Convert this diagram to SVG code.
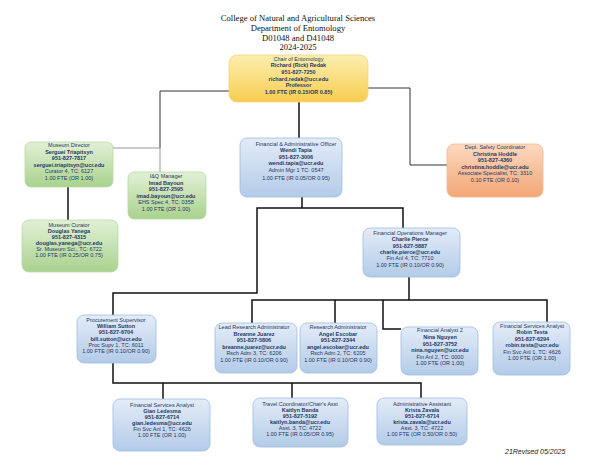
<svg xmlns="http://www.w3.org/2000/svg" width="600" height="465" viewBox="0 0 600 465">
<defs>
<linearGradient id="gY" x1="0" y1="0" x2="0" y2="1"><stop offset="0" stop-color="#fdeeb0"/><stop offset="1" stop-color="#f7cd4f"/></linearGradient>
<linearGradient id="gG" x1="0" y1="0" x2="0" y2="1"><stop offset="0" stop-color="#e2f0d6"/><stop offset="1" stop-color="#a9d28e"/></linearGradient>
<linearGradient id="gB" x1="0" y1="0" x2="0" y2="1"><stop offset="0" stop-color="#e3ecf8"/><stop offset="1" stop-color="#b3cbe8"/></linearGradient>
<linearGradient id="gO" x1="0" y1="0" x2="0" y2="1"><stop offset="0" stop-color="#fcd9c0"/><stop offset="1" stop-color="#f3a676"/></linearGradient>
<style>
.title{font-family:"Liberation Serif","Times New Roman",serif;font-size:8.6px;fill:#111;text-anchor:middle}
.y{fill:url(#gY);stroke:#f2d680;stroke-width:0.8}
.g{fill:url(#gG);stroke:#b9d9a3;stroke-width:0.8}
.bl{fill:url(#gB);stroke:#9fbde0;stroke-width:0.8}
.o{fill:url(#gO);stroke:#f3b88f;stroke-width:0.8}
.n text{font-family:"Liberation Sans",Arial,sans-serif;font-size:5.5px;fill:#1f3864;text-anchor:middle}
.b{font-weight:bold}
.c{fill:none;stroke:#111;stroke-width:1.5}
.c1{fill:none;stroke:#333;stroke-width:1}
.c2{fill:none;stroke:#999;stroke-width:1}
.rev{font-family:"Liberation Sans",Arial,sans-serif;font-size:7px;font-style:italic;fill:#222}
</style>
</defs>
<rect width="600" height="465" fill="#fff"/>
<g id="title">
<text class="title" x="298" y="21">College of Natural and Agricultural Sciences</text>
<text class="title" x="298" y="31">Department of Entomology</text>
<text class="title" x="298" y="41">D01048 and D41048</text>
<text class="title" x="298" y="50">2024-2025</text>
</g>
<g id="connectors">
<polyline class="c1" points="229,91 160,91 160,148"/>
<polyline class="c2" points="113,148 160,148 160,172"/>
<polyline class="c1" points="368,88 410,88 410,165 447,165"/>
<line class="c" x1="299" y1="102" x2="299" y2="138"/>
<line class="c" x1="68" y1="187" x2="68" y2="220"/>
<polyline class="c" points="302,197 302,208"/>
<polyline class="c" points="403,228 403,208 257,208 257,293 113,293 113,315"/>
<line class="c" x1="409" y1="277" x2="409" y2="300"/>
<polyline class="c" points="252,323 252,300 547,300 547,322"/>
<line class="c" x1="335" y1="300" x2="335" y2="323"/>
<polyline class="c" points="383,300 383,329 401,329"/>
<polyline class="c" points="113,362 113,383 421,383 421,398"/>
<line class="c" x1="163" y1="383" x2="163" y2="399"/>
<line class="c" x1="292" y1="383" x2="292" y2="398"/>
</g>
<g id="chair" class="n">
<rect class="y" x="229" y="55" width="139" height="47" rx="8"/>
<text x="298.5" y="60.5">Chair of Entomology</text>
<text class="b" x="298.5" y="67.2">Richard (Rick) Redak</text>
<text class="b" x="298.5" y="73.9">951-827-7250</text>
<text class="b" x="298.5" y="80.6">richard.redak@ucr.edu</text>
<text class="b" x="298.5" y="87.3">Professor</text>
<text class="b" x="298.5" y="94">1.00 FTE (IR 0.15/OR 0.85)</text>
</g>
<g id="museum-director" class="n">
<rect class="g" x="25" y="142" width="88" height="45" rx="6"/>
<text x="69" y="147">Museum Director</text>
<text class="b" x="69" y="153.5">Serguei Triapitsyn</text>
<text class="b" x="69" y="160">951-827-7817</text>
<text class="b" x="69" y="166.5">serguei.triapitsyn@ucr.edu</text>
<text x="69" y="173">Curator 4, TC: 6127</text>
<text x="69" y="179.5">1.00 FTE (OR 1.00)</text>
</g>
<g id="iq-manager" class="n">
<rect class="g" x="128" y="172" width="78" height="47" rx="6"/>
<text x="166" y="178">I&amp;Q Manager</text>
<text class="b" x="166" y="184.5">Imad Bayoun</text>
<text class="b" x="166" y="191">951-827-2595</text>
<text class="b" x="166" y="197.5">imad.bayoun@ucr.edu</text>
<text x="166" y="204">EHS Spec 4, TC: 0358</text>
<text x="166" y="210.5">1.00 FTE (OR 1.00)</text>
</g>
<g id="fao" class="n">
<rect class="bl" x="240" y="138" width="102" height="59" rx="7"/>
<text x="296" y="145.5">Financial &amp; Administrative Officer</text>
<text class="b" x="296" y="152">Wendi Tapia</text>
<text class="b" x="296" y="158.5">951-827-3006</text>
<text class="b" x="296" y="165">wendi.tapia@ucr.edu</text>
<text x="296" y="171.5">Admin Mgr 1 TC:  0547</text>
<text x="296" y="180">1.00 FTE (IR 0.05/OR 0.95)</text>
</g>
<g id="safety" class="n">
<rect class="o" x="447" y="144" width="96" height="53" rx="7"/>
<text x="495" y="149">Dept. Safety Coordinator</text>
<text class="b" x="495" y="155.5">Christina Hoddle</text>
<text class="b" x="495" y="162">951-827-4360</text>
<text class="b" x="495" y="168.5">christina.hoddle@ucr.edu</text>
<text x="495" y="175">Associate Specialist, TC: 3310</text>
<text x="495" y="181.5">0.10 FTE (OR 0.10)</text>
</g>
<g id="curator" class="n">
<rect class="g" x="22" y="220" width="96" height="52" rx="7"/>
<text x="69" y="227">Museum Curator</text>
<text class="b" x="69" y="233">Douglas Yanega</text>
<text class="b" x="69" y="239">951-827-4315</text>
<text class="b" x="69" y="245">douglas.yanega@ucr.edu</text>
<text x="69" y="251">Sr. Museum Sci., TC: 6722</text>
<text x="69" y="257">1.00 FTE (IR 0.25/OR 0.75)</text>
</g>
<g id="ops-manager" class="n">
<rect class="bl" x="363" y="228" width="97" height="49" rx="7"/>
<text x="410" y="235">Financial Operations Manager</text>
<text class="b" x="410" y="241.3">Charlie Pierce</text>
<text class="b" x="410" y="247.6">951-827-5887</text>
<text class="b" x="410" y="253.9">charlie.pierce@ucr.edu</text>
<text x="410" y="260.2">Fin Anl 4, TC: 7710</text>
<text x="410" y="266.5">1.00 FTE (IR 0.10/OR 0.90)</text>
</g>
<g id="procurement" class="n">
<rect class="bl" x="77" y="315" width="79" height="48" rx="7"/>
<text x="116" y="322">Procurement Supervisor</text>
<text class="b" x="116" y="328.2">William Sutton</text>
<text class="b" x="116" y="334.4">951-827-6704</text>
<text class="b" x="116" y="340.6">bill.sutton@ucr.edu</text>
<text x="116" y="346.8">Proc Supv 1, TC: 6011</text>
<text x="116" y="353">1.00 FTE (IR 0.10/OR 0.90)</text>
</g>
<g id="lead-research" class="n">
<rect class="bl" x="215" y="323" width="82" height="50" rx="7"/>
<text x="254" y="329">Lead Research Administrator</text>
<text class="b" x="254" y="335.5">Breanne Juarez</text>
<text class="b" x="254" y="342">951-827-5806</text>
<text class="b" x="254" y="348.5">breanne.juarez@ucr.edu</text>
<text x="254" y="355">Rsch Adm 3, TC: 6206</text>
<text x="254" y="361.5">1.00 FTE (IR 0.10/OR 0.90)</text>
</g>
<g id="research-admin" class="n">
<rect class="bl" x="300" y="323" width="77" height="50" rx="7"/>
<text x="338" y="329">Research Administrator</text>
<text class="b" x="338" y="335.5">Angel Escobar</text>
<text class="b" x="338" y="342">951-827-2344</text>
<text class="b" x="338" y="348.5">angel.escobar@ucr.edu</text>
<text x="338" y="355">Rsch Adm 2, TC: 6205</text>
<text x="338" y="361.5">1.00 FTE (IR 0.10/OR 0.90)</text>
</g>
<g id="fin-analyst-2" class="n">
<rect class="bl" x="401" y="327" width="77" height="48" rx="7"/>
<text x="440" y="332">Financial Analyst 2</text>
<text class="b" x="440" y="339">Nina Nguyen</text>
<text class="b" x="440" y="345.5">951-827-3752</text>
<text class="b" x="440" y="352">nina.nguyen@ucr.edu</text>
<text x="440" y="358.5">Fin Anl 2, TC: 0000</text>
<text x="440" y="365">1.00 FTE (OR 1.00)</text>
</g>
<g id="fin-services-testa" class="n">
<rect class="bl" x="493" y="322" width="77" height="53" rx="7"/>
<text x="532" y="328">Financial Services Analyst</text>
<text class="b" x="532" y="334">Robin Testa</text>
<text class="b" x="532" y="340.5">951-827-6294</text>
<text class="b" x="532" y="347">robin.testa@ucr.edu</text>
<text x="532" y="353.5">Fin Svc Anl 1, TC: 4626</text>
<text x="532" y="360">1.00 FTE (OR 1.00)</text>
</g>
<g id="fin-services-ledesma" class="n">
<rect class="bl" x="113" y="399" width="97" height="52" rx="7"/>
<text x="162" y="407">Financial Services Analyst</text>
<text class="b" x="162" y="413">Gian Ledesma</text>
<text class="b" x="162" y="419">951-827-6714</text>
<text class="b" x="162" y="425">gian.ledesma@ucr.edu</text>
<text x="162" y="431">Fin Svc Anl 1, TC: 4626</text>
<text x="162" y="437">1.00 FTE (OR 1.00)</text>
</g>
<g id="travel-coordinator" class="n">
<rect class="bl" x="253" y="398" width="95" height="49" rx="7"/>
<text x="300" y="406">Travel Coordinator/Chair's Asst</text>
<text class="b" x="300" y="412">Kaitlyn Banda</text>
<text class="b" x="300" y="418">951-827-5192</text>
<text class="b" x="300" y="424">kaitlyn.banda@ucr.edu</text>
<text x="300" y="430">Asst. 3, TC: 4722</text>
<text x="300" y="436">1.00 FTE (IR 0.05/OR 0.95)</text>
</g>
<g id="admin-assistant" class="n">
<rect class="bl" x="377" y="398" width="90" height="47" rx="7"/>
<text x="422" y="406">Administrative Assistant</text>
<text class="b" x="422" y="412">Krista Zavala</text>
<text class="b" x="422" y="418">951-827-6714</text>
<text class="b" x="422" y="424">krista.zavala@ucr.edu</text>
<text x="422" y="430">Asst. 3, TC: 4722</text>
<text x="422" y="436">1.00 FTE (OR 0.50/OR 0.50)</text>
</g>
<text class="rev" x="505" y="454">21Revised 05/2025</text>
</svg>
